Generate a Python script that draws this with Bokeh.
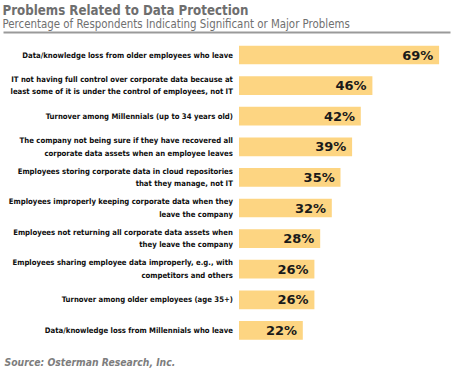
from bokeh.plotting import figure
from bokeh.models import Range1d, Label, ColumnDataSource
from bokeh.core.properties import value
from bokeh.embed import file_html
from bokeh.resources import INLINE

categories = [
    "Data/knowledge loss from older employees who leave",
    "IT not having full control over corporate data because at\nleast some of it is under the control of employees, not IT",
    "Turnover among Millennials (up to 34 years old)",
    "The company not being sure if they have recovered all\ncorporate data assets when an employee leaves",
    "Employees storing corporate data in cloud repositories\nthat they manage, not IT",
    "Employees improperly keeping corporate data when they\nleave the company",
    "Employees not returning all corporate data assets when\nthey leave the company",
    "Employees sharing employee data improperly, e.g., with\ncompetitors and others",
    "Turnover among older employees (age 35+)",
    "Data/knowledge loss from Millennials who leave",
]
values = [69, 46, 42, 39, 35, 32, 28, 26, 26, 22]
value_labels = [f"{v}%" for v in values]

title = "Problems Related to Data Protection"
subtitle = "Percentage of Respondents Indicating Significant or Major Problems"
source_note = "Source: Osterman Research, Inc."

W, H = 461, 376
X0, XS = 238.5, 2.9       # pixel of zero, pixels per percent
Y0, YS = 54.5, 30.6       # pixel of first row centre, row spacing

p = figure(width=W, height=H, output_backend="svg", toolbar_location=None,
           min_border=0, x_axis_type=None, y_axis_type=None,
           x_range=Range1d(-X0 / XS, (W - X0) / XS),
           y_range=Range1d((H - Y0) / YS, -Y0 / YS))
p.outline_line_color = None
p.xgrid.visible = False
p.ygrid.visible = False
p.background_fill_color = "white"
p.border_fill_color = "white"

rows = list(range(len(values)))
src = ColumnDataSource(dict(y=rows, v=values, lab=value_labels, cat=categories,
                            vx=[v - 2.0 for v in values],
                            lx=[-2.1] * len(values)))

p.hbar(y="y", left=0, right="v", height=0.61, source=src,
       fill_color="#FDD582", line_color=None)

p.text(x="vx", y="y", text="lab", source=src, text_align="right",
       text_baseline="middle", text_font=value("DejaVu Sans"),
       text_font_style="bold", text_font_size="13px", text_color="#1a1a1a")

p.text(x="lx", y="y", text="cat", source=src, text_align="right",
       text_baseline="middle", text_font=value("DejaVu Sans Condensed"),
       text_font_style="bold", text_font_size="7.7px", text_color="#0d0d0d",
       text_line_height=1.4)

def add_label(txt, x, ytop, size, style, color):
    p.add_layout(Label(x=x, y=H - ytop, x_units="screen", y_units="screen",
                       text=txt, text_font="DejaVu Sans Condensed",
                       text_font_size=size, text_font_style=style,
                       text_color=color, text_baseline="top"))

add_label(title, 2, 2, "13.2px", "bold", "#6e6e6e")
add_label(subtitle, 2, 16, "11.4px", "normal", "#707070")
add_label(source_note, 4, 355, "10.3px", "bold italic", "#7d7d7d")

# separator rule under the heading
p.line(x=[(3 - X0) / XS, (450 - X0) / XS], y=[(32 - Y0) / YS] * 2,
       line_color="#9a9a9a", line_width=2)

open("out.html", "w").write(file_html(p, INLINE))
